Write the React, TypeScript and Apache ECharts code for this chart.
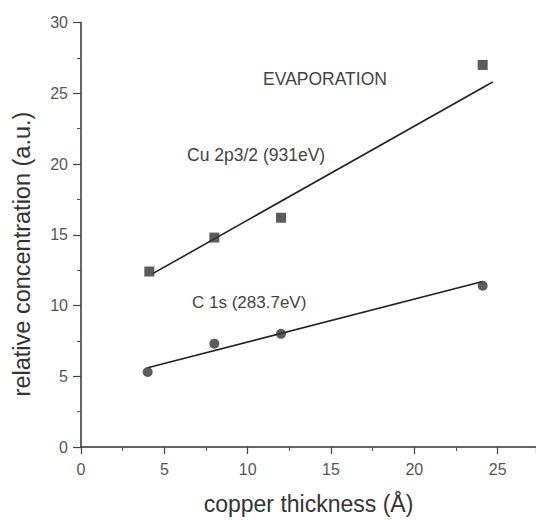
import React, { useEffect, useRef } from "react";
import * as echarts from "echarts";

const cuThickness = [4.1, 8, 12, 24.1];
const cuValues = [12.4, 14.8, 16.2, 27.0];
const cThickness = [4, 8, 12, 24.1];
const cValues = [5.3, 7.3, 8.0, 11.4];
const cuFitX = [4.3, 24.7];
const cuFitY = [12.25, 25.8];
const cFitX = [4.0, 24.1];
const cFitY = [5.6, 11.7];
const xTicks = [0, 5, 10, 15, 20, 25];
const yTicks = [0, 5, 10, 15, 20, 25, 30];

const FONT = "Liberation Sans, Arial, sans-serif";

export default function App() {
  const ref = useRef<HTMLDivElement>(null);
  useEffect(() => {
    if (!ref.current) return;
    const chart = echarts.init(ref.current, undefined, { renderer: "svg" });
    const pairs = (xs: number[], ys: number[]) => xs.map((x, i) => [x, ys[i]]);
    chart.setOption({
      animation: false,
      backgroundColor: "#ffffff",
      grid: { left: 81, top: 22.5, right: 0, bottom: 70.7 },
      xAxis: {
        type: "value",
        min: 0,
        max: 27.3,
        interval: 5,
        name: "copper thickness (Å)",
        nameLocation: "middle",
        nameGap: 45,
        nameTextStyle: { fontFamily: FONT, fontSize: 23, color: "#333" },
        axisLine: { show: true, lineStyle: { color: "#333", width: 1.5 } },
        axisTick: { show: true, length: 7, lineStyle: { color: "#444", width: 1.2 } },
        minorTick: { show: true, splitNumber: 2, length: 4, lineStyle: { color: "#555" } },
        splitLine: { show: false },
        axisLabel: {
          fontFamily: FONT,
          fontSize: 16,
          color: "#555",
          margin: 14,
          showMaxLabel: false,
          formatter: (v: number) => (xTicks.includes(v) ? String(v) : ""),
        },
      },
      yAxis: {
        type: "value",
        min: 0,
        max: 30,
        interval: 5,
        axisLine: { show: true, lineStyle: { color: "#333", width: 1.5 } },
        axisTick: { show: true, length: 8, lineStyle: { color: "#444", width: 1.2 } },
        minorTick: { show: true, splitNumber: 2, length: 4, lineStyle: { color: "#555" } },
        splitLine: { show: false },
        axisLabel: {
          fontFamily: FONT,
          fontSize: 16,
          color: "#555",
          margin: 13,
          formatter: (v: number) => (yTicks.includes(v) ? String(v) : ""),
        },
      },
      series: [
        {
          type: "line",
          data: pairs(cuFitX, cuFitY),
          showSymbol: false,
          lineStyle: { color: "#222", width: 1.6 },
          z: 2,
        },
        {
          type: "line",
          data: pairs(cFitX, cFitY),
          showSymbol: false,
          lineStyle: { color: "#222", width: 1.6 },
          z: 2,
        },
        {
          type: "scatter",
          data: pairs(cuThickness, cuValues),
          symbol: "rect",
          symbolSize: 10,
          itemStyle: { color: "#333" },
          z: 3,
        },
        {
          type: "scatter",
          data: pairs(cThickness, cValues),
          symbol: "circle",
          symbolSize: 10,
          itemStyle: { color: "#333" },
          z: 3,
        },
      ],
      graphic: [
        {
          type: "text",
          x: 22,
          y: 254,
          rotation: Math.PI / 2,
          style: {
            text: "relative concentration (a.u.)",
            fontFamily: FONT,
            fontSize: 23.5,
            fill: "#333",
            align: "center",
            verticalAlign: "middle",
          },
        },
        {
          type: "text",
          x: 325,
          y: 79,
          style: {
            text: "EVAPORATION",
            fontFamily: FONT,
            fontSize: 17.5,
            fill: "#444",
            align: "center",
            verticalAlign: "middle",
          },
        },
        {
          type: "text",
          x: 187,
          y: 155,
          style: {
            text: "Cu 2p3/2 (931eV)",
            fontFamily: FONT,
            fontSize: 17.5,
            fill: "#444",
            align: "left",
            verticalAlign: "middle",
          },
        },
        {
          type: "text",
          x: 192,
          y: 302,
          style: {
            text: "C 1s (283.7eV)",
            fontFamily: FONT,
            fontSize: 17,
            fill: "#444",
            align: "left",
            verticalAlign: "middle",
          },
        },
      ],
    });
    return () => chart.dispose();
  }, []);
  return <div ref={ref} style={{ width: 536, height: 520, position: "absolute", left: 0, top: 0 }} />;
}
